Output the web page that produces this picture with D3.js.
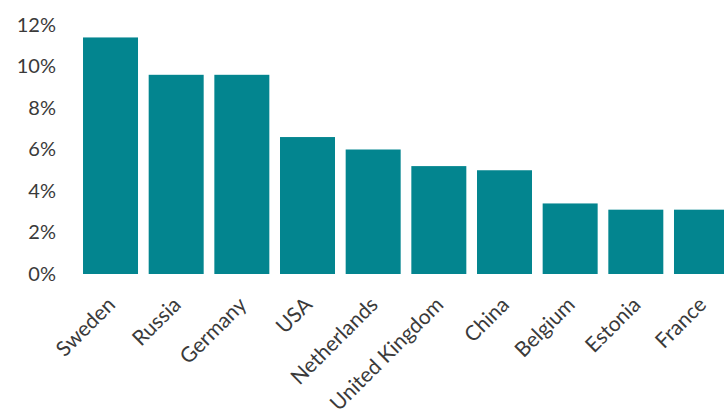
<!DOCTYPE html>
<html>
<head>
<meta charset="utf-8">
<script src="https://cdn.jsdelivr.net/npm/d3@7"></script>
<style>
  body { margin: 0; background: #fff; }
  svg { display: block; }
  .axis text { font-family: Lato, "Open Sans", sans-serif; fill: #3a3a3a; }
</style>
</head>
<body>
<svg></svg>
<script>
var countries = ["Sweden", "Russia", "Germany", "USA", "Netherlands", "United Kingdom", "China", "Belgium", "Estonia", "France"];
var shares = [11.4, 9.6, 9.6, 6.6, 6.0, 5.2, 5.0, 3.4, 3.1, 3.1];
var yTicks = [0, 2, 4, 6, 8, 10, 12];

var svgWidth = 724, svgHeight = 417;
var barColor = "#03858f";

var svg = d3.select("svg")
            .attr("width", svgWidth)
            .attr("height", svgHeight);

// scales
var x = d3.scaleBand()
          .domain(countries)
          .range([80, 732])
          .paddingInner(0.1625)
          .paddingOuter(0.046);

var y = d3.scaleLinear()
          .domain([0, 12])
          .range([274, 25]);

// bars
svg.selectAll("rect.bar")
   .data(shares)
   .enter()
   .append("rect")
   .attr("class", "bar")
   .attr("x", function(d, i) { return x(countries[i]); })
   .attr("y", function(d) { return y(d); })
   .attr("width", x.bandwidth())
   .attr("height", function(d) { return y(0) - y(d); })
   .attr("fill", barColor);

// y axis, labels only
var yAxis = svg.append("g")
               .attr("class", "axis")
               .attr("transform", "translate(56,0)")
               .call(d3.axisLeft(y)
                       .tickValues(yTicks)
                       .tickSize(0)
                       .tickPadding(0)
                       .tickFormat(function(d) { return d + "%"; }));
yAxis.select(".domain").remove();
yAxis.selectAll("text").style("font-size", "20px");

// x axis, rotated labels
var xAxis = svg.append("g")
               .attr("class", "axis")
               .attr("transform", "translate(0," + y(0) + ")")
               .call(d3.axisBottom(x).tickSize(0));
xAxis.select(".domain").remove();
xAxis.selectAll("text")
     .style("font-size", "21px")
     .style("text-anchor", "end")
     .attr("x", 0)
     .attr("y", 0)
     .attr("dy", 0)
     .attr("transform", "translate(6,32) rotate(-45)");
</script>
</body>
</html>
